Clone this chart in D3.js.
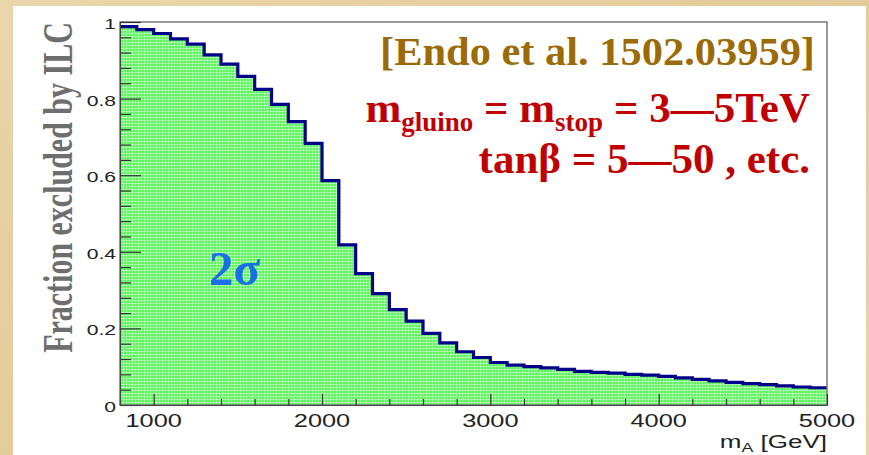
<!DOCTYPE html>
<html><head><meta charset="utf-8">
<script src="https://cdn.jsdelivr.net/npm/d3@7"></script>
<style>html,body{margin:0;padding:0;background:#e7d1a3;} svg{display:block}</style>
</head><body><svg id="c" width="869" height="455"></svg>
<script>
// ---- data ----
const binStarts = [800,900,1000,1100,1200,1300,1400,1500,1600,1700,1800,1900,2000,2100,2200,2300,2400,2500,2600,2700,2800,2900,3000,3100,3200,3300,3400,3500,3600,3700,3800,3900,4000,4100,4200,4300,4400,4500,4600,4700,4800,4900];
const fractions = [0.988,0.980,0.970,0.956,0.942,0.914,0.890,0.858,0.824,0.785,0.740,0.683,0.586,0.418,0.343,0.291,0.249,0.219,0.187,0.162,0.139,0.124,0.111,0.104,0.100,0.097,0.093,0.088,0.085,0.083,0.080,0.078,0.075,0.071,0.067,0.063,0.059,0.056,0.053,0.050,0.047,0.045];
const xEnd = 5000;
const xMajorTicks = [1000,2000,3000,4000,5000];
const xMinorTicks = [800,1200,1400,1600,1800,2200,2400,2600,2800,3200,3400,3600,3800,4200,4400,4600,4800];
const yMajorTicks = [0,0.2,0.4,0.6,0.8,1];
const yMajorLabels = ["0","0.2","0.4","0.6","0.8","1"];
const yMinorTicks = d3.range(0,1.0001,0.04).filter(v => Math.abs(v*5 - Math.round(v*5)) > 1e-6);
const xTitle = "m";
const xTitleSub = "A";
const xTitleRest = " [GeV]";
const yTitle = "Fraction excluded by ILC";
const refText = "[Endo et al. 1502.03959]";
const sigmaText = "2σ";

// ---- layout ----
const svg = d3.select("#c");
const L = 120, R = 827, T = 22, B = 405;
const x = d3.scaleLinear().domain([800, xEnd]).range([L, R]);
const y = d3.scaleLinear().domain([0, 1]).range([B, T]);
const serif = "'Liberation Serif', 'Times New Roman', serif";
const sans = "'Liberation Sans', Arial, sans-serif";

const defs = svg.append("defs");
const pat = defs.append("pattern").attr("id","grn").attr("patternUnits","userSpaceOnUse").attr("width",3).attr("height",3);
pat.append("rect").attr("width",3).attr("height",3).attr("fill","#5af55a");
pat.append("rect").attr("x",0).attr("y",0).attr("width",3).attr("height",1).attr("fill","#ffffff").attr("opacity",0.45);
pat.append("rect").attr("x",0).attr("y",0).attr("width",1).attr("height",3).attr("fill","#ffffff").attr("opacity",0.35);

const bgGrad = defs.append("linearGradient").attr("id","bg").attr("x1",0).attr("y1",0).attr("x2",1).attr("y2",1);
bgGrad.append("stop").attr("offset","0%").attr("stop-color","#ead6aa");
bgGrad.append("stop").attr("offset","50%").attr("stop-color","#e3cb9a");
bgGrad.append("stop").attr("offset","100%").attr("stop-color","#e9d4a6");
svg.append("rect").attr("width",869).attr("height",455).attr("fill","url(#bg)");

// white panel
svg.append("rect").attr("x",13).attr("y",6).attr("width",853).attr("height",455).attr("fill","#ffffff");

// histogram data
const pts = binStarts.map((b,i)=>({x:b, v:fractions[i]}));
pts.push({x:xEnd, v:fractions[fractions.length-1]});

const area = d3.area().curve(d3.curveStepAfter).x(d=>x(d.x)).y0(y(0)).y1(d=>y(d.v));
svg.append("path").datum(pts).attr("d",area).attr("fill","url(#grn)");

const line = d3.line().curve(d3.curveStepAfter).x(d=>x(d.x)).y(d=>y(d.v));
svg.append("path").datum(pts).attr("d",line).attr("fill","none").attr("stroke","#000088").attr("stroke-width",3.2);

// frame
svg.append("rect").attr("x",L).attr("y",T).attr("width",R-L).attr("height",B-T)
  .attr("fill","none").attr("stroke","#777").attr("stroke-width",1.5);

// axes ticks (inward)
const gy = svg.append("g").attr("transform",`translate(${L},0)`);
gy.call(d3.axisLeft(y).tickValues(yMinorTicks).tickSize(-11).tickFormat(""));
gy.call(g=>g.selectAll(".domain").remove());
const gy2 = svg.append("g").attr("transform",`translate(${L},0)`);
gy2.call(d3.axisLeft(y).tickValues(yMajorTicks).tickSize(-21).tickFormat(""));
[gy,gy2].forEach(g=>{g.selectAll(".tick line").attr("stroke","#333").attr("stroke-width",1.2); g.selectAll(".domain").attr("stroke","#444");});

const gx = svg.append("g").attr("transform",`translate(0,${B})`);
gx.call(d3.axisBottom(x).tickValues(xMinorTicks).tickSize(-6).tickFormat(""));
gx.call(g=>g.selectAll(".domain").remove());
const gx2 = svg.append("g").attr("transform",`translate(0,${B})`);
gx2.call(d3.axisBottom(x).tickValues(xMajorTicks).tickSize(-11).tickFormat(""));
[gx,gx2].forEach(g=>{g.selectAll(".tick line").attr("stroke","#333").attr("stroke-width",1.2); g.selectAll(".domain").attr("stroke","#444");});

// tick labels (horizontally stretched like the source)
const sx = 1.37;
yMajorTicks.forEach((v,i)=>{
  svg.append("text").attr("transform",`translate(116,${y(v)+1.5}) scale(${sx},1)`)
    .attr("text-anchor","end").attr("dy","0.36em")
    .attr("font-family",sans).attr("font-size",15.4).attr("fill","#222")
    .text(yMajorLabels[i]);
});
xMajorTicks.forEach(v=>{
  svg.append("text").attr("transform",`translate(${x(v)},427) scale(${sx},1)`)
    .attr("text-anchor","middle")
    .attr("font-family",sans).attr("font-size",18.5).attr("fill","#222")
    .text(d3.format("d")(v));
});

// x axis title
const xt = svg.append("text").attr("transform",`translate(827,448) scale(${sx},1)`)
  .attr("text-anchor","end").attr("font-family",sans).attr("font-size",19).attr("fill","#222");
xt.append("tspan").text(xTitle);
xt.append("tspan").attr("font-size",13).attr("dy",4).text(xTitleSub);
xt.append("tspan").attr("dy",-4).text(xTitleRest);

// y axis title
svg.append("text").attr("transform",`translate(72,187.5) scale(${sx},1) rotate(-90)`)
  .attr("text-anchor","middle").attr("font-family",serif)
  .attr("font-weight","bold").attr("font-size",30).attr("fill","#6e6e6e")
  .text(yTitle);

// annotations
svg.append("text").attr("x",380).attr("y",65)
  .attr("font-family",serif).attr("font-weight","bold")
  .attr("font-size",41).attr("fill","#9c6a06")
  .attr("textLength",435).attr("lengthAdjust","spacingAndGlyphs")
  .text(refText);

const red = "#c00000";
const t1 = svg.append("text").attr("x",810).attr("y",122).attr("text-anchor","end")
  .attr("font-family",serif).attr("font-weight","bold")
  .attr("font-size",43).attr("fill",red);
t1.append("tspan").text("m");
t1.append("tspan").attr("font-size",27).attr("dy",9).text("gluino");
t1.append("tspan").attr("dy",-9).text(" = m");
t1.append("tspan").attr("font-size",27).attr("dy",9).text("stop");
t1.append("tspan").attr("dy",-9).text(" = 3—5TeV");

svg.append("text").attr("x",810).attr("y",173).attr("text-anchor","end")
  .attr("font-family",serif).attr("font-weight","bold")
  .attr("font-size",43).attr("fill",red)
  .text("tanβ = 5—50 , etc.");

svg.append("text").attr("x",209).attr("y",285)
  .attr("font-family",serif).attr("font-weight","bold")
  .attr("font-size",49).attr("fill","#1a6ee6")
  .text(sigmaText);
</script>
</body></html>
